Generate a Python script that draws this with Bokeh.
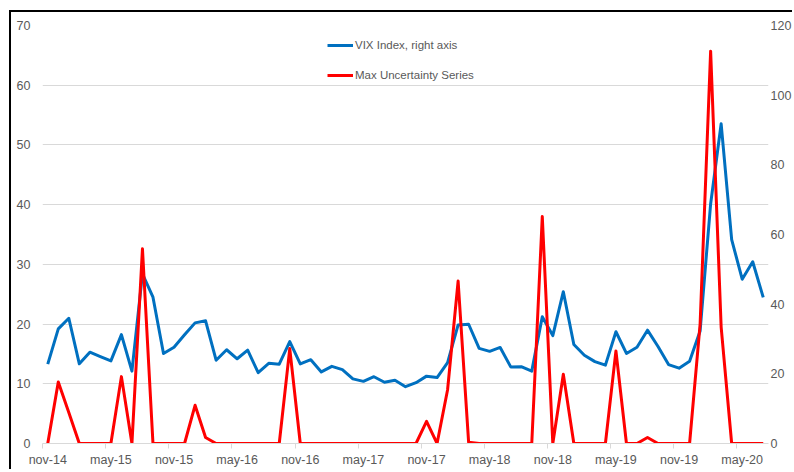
from bokeh.plotting import figure
from bokeh.models import Range1d, LinearAxis, FixedTicker, Legend, LegendItem
from bokeh.embed import file_html
from bokeh.resources import INLINE

# Monthly values, nov-14 ... jul-20
vix = [13.3, 19.2, 20.97, 13.34, 15.29, 14.55, 13.84, 18.23, 12.12, 28.4,
       24.5, 15.07, 16.13, 18.21, 20.2, 20.55, 13.95, 15.7, 14.19, 15.63,
       11.87, 13.42, 13.29, 17.06, 13.33, 14.04, 11.99, 12.92, 12.37, 10.82,
       10.41, 11.18, 10.26, 10.59, 9.51, 10.18, 11.28, 11.04, 13.54, 19.85,
       19.97, 15.93, 15.43, 16.09, 12.83, 12.86, 12.12, 21.23, 18.07, 25.42,
       16.57, 14.78, 13.71, 13.12, 18.71, 15.08, 16.12, 18.98, 16.24, 13.22,
       12.62, 13.78, 18.84, 40.11, 53.54, 34.15, 27.51, 30.43, 24.46]

max_uncertainty = [0, 10.3, 5.2, 0, 0, 0, 0, 11.2, 0, 32.6,
                   0, 0, 0, 0, 6.4, 1.0, 0, 0, 0, 0,
                   0, 0, 0, 15.9, 0, 0, 0, 0, 0, 0,
                   0, 0, 0, 0, 0, 0, 3.7, 0, 9.0, 27.2,
                   0.2, 0, 0, 0, 0, 0, 0, 38.0, 0, 11.6,
                   0, 0, 0, 0, 15.5, 0, 0, 1.0, 0, 0,
                   0, 0, 20.0, 65.7, 19.5, 0, 0, 0, 0]

tick_labels = ["nov-14", "may-15", "nov-15", "may-16", "nov-16", "may-17",
               "nov-17", "may-18", "nov-18", "may-19", "nov-19", "may-20"]
left_ticks = [0, 10, 20, 30, 40, 50, 60, 70]
right_ticks = [0, 20, 40, 60, 80, 100, 120]

x = list(range(len(vix)))
label_step = 6
major = [i * label_step for i in range(len(tick_labels))]
minor = [m - 0.5 for m in major]

TEXT = "#595959"
FONT = "Liberation Sans"
GRID = "#d9d9d9"

p = figure(width=783, height=459, output_backend="svg", toolbar_location=None,
           x_range=Range1d(-0.5, len(vix) - 0.5),
           y_range=Range1d(left_ticks[0], left_ticks[-1]),
           min_border_left=31, min_border_right=5, min_border_top=13,
           min_border_bottom=28)
p.styles = {"border-left": "2px solid #000000", "border-top": "2px solid #000000",
            "margin-left": "9px", "margin-top": "10px"}
p.outline_line_color = None
p.background_fill_color = "white"
p.border_fill_color = "white"
p.extra_y_ranges = {"right": Range1d(right_ticks[0], right_ticks[-1])}

p.xgrid.visible = False
p.ygrid.ticker = FixedTicker(ticks=left_ticks)
p.ygrid.grid_line_color = GRID

xa = p.xaxis[0]
xa.ticker = FixedTicker(ticks=major, minor_ticks=minor)
xa.major_label_overrides = {m: lab for m, lab in zip(major, tick_labels)}
xa.axis_line_color = GRID
xa.major_tick_line_color = None
xa.major_tick_in = 0
xa.major_tick_out = 0
xa.minor_tick_line_color = GRID
xa.minor_tick_in = 0
xa.minor_tick_out = 5
xa.major_label_standoff = 4
xa.major_label_text_font = FONT
xa.major_label_text_font_size = "12.5px"
xa.major_label_text_color = TEXT

ya = p.yaxis[0]
ya.ticker = FixedTicker(ticks=left_ticks)
ya.axis_line_color = None
ya.major_tick_line_color = None
ya.major_tick_in = 0
ya.major_tick_out = 0
ya.minor_tick_line_color = None
ya.major_label_standoff = 12
ya.major_label_text_font = FONT
ya.major_label_text_font_size = "12.5px"
ya.major_label_text_color = TEXT

ra = LinearAxis(y_range_name="right", ticker=FixedTicker(ticks=right_ticks))
ra.axis_line_color = None
ra.major_tick_line_color = None
ra.major_tick_in = 0
ra.major_tick_out = 0
ra.minor_tick_line_color = None
ra.major_label_standoff = 2
ra.major_label_text_font = FONT
ra.major_label_text_font_size = "12.5px"
ra.major_label_text_color = TEXT
p.add_layout(ra, "right")

r_vix = p.line(x, vix, line_color="#0070C0", line_width=3, line_join="round")
r_unc = p.line(x, max_uncertainty, line_color="#FF0000", line_width=3, line_join="round")

legend = Legend(items=[LegendItem(label="VIX Index, right axis", renderers=[r_vix]),
                       LegendItem(label="Max Uncertainty Series", renderers=[r_unc])],
                location=(285, 358), orientation="vertical",
                padding=0, margin=0, spacing=10,
                glyph_width=26, glyph_height=20, label_height=20,
                label_standoff=2, border_line_color=None,
                background_fill_alpha=0,
                label_text_font=FONT, label_text_font_size="11.5px",
                label_text_color=TEXT)
p.add_layout(legend)

open("out.html", "w").write(file_html(p, INLINE))
